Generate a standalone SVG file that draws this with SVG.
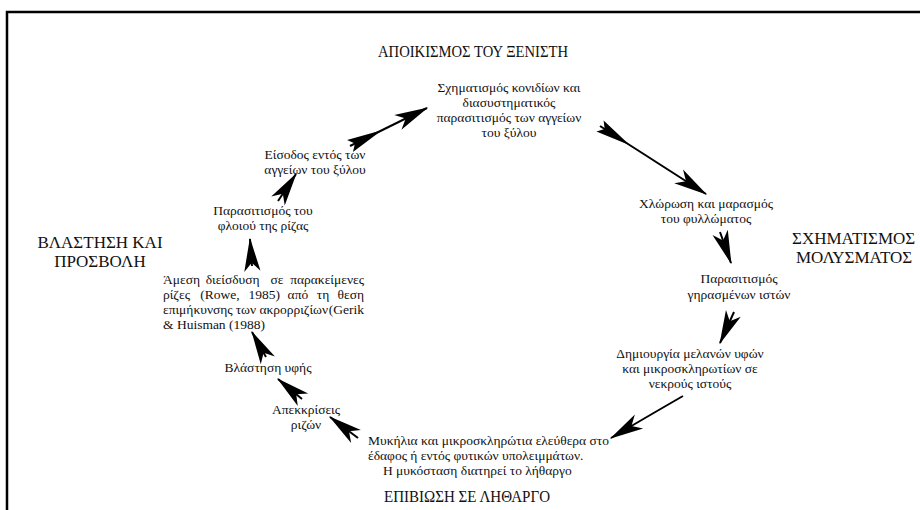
<svg xmlns="http://www.w3.org/2000/svg" width="920" height="510" viewBox="0 0 920 510">
<style>
text{font-family:"Liberation Serif","DejaVu Serif",serif;fill:#111;}
.s{font-size:13.5px;text-anchor:middle;}
.j{font-size:13.5px;}
.cap{font-size:16.5px;}
.side{font-size:17px;}
.conn{stroke:#000;stroke-width:2;fill:none;}
</style>
<defs>
<marker id="head" markerUnits="userSpaceOnUse" markerWidth="40" markerHeight="20" viewBox="-28 -8 30 16" refX="0" refY="0" orient="auto" overflow="visible">
<path d="M1,0 L-26,-6.5 L-19,0 L-26,6.5 Z" fill="#000"/>
</marker>
<marker id="tail" markerUnits="userSpaceOnUse" markerWidth="40" markerHeight="20" viewBox="-2 -8 36 16" refX="0" refY="0" orient="auto" overflow="visible">
<path d="M0,-6 L32,0 L0,6 L5,0 Z" fill="#000"/>
</marker>
</defs>
<rect width="920" height="510" fill="#fff"/>
<g id="frame" stroke="#000" stroke-width="2.5" fill="none">
<polyline points="7,510 7,12 920,12"/>
</g>

<g id="title-top"><text class="cap" x="378" y="57" textLength="190" lengthAdjust="spacingAndGlyphs">ΑΠΟΙΚΙΣΜΟΣ ΤΟΥ ΞΕΝΙΣΤΗ</text></g>
<g id="title-left"><text class="side" x="100" y="248" text-anchor="middle">ΒΛΑΣΤΗΣΗ ΚΑΙ</text><text class="side" x="100" y="267" text-anchor="middle">ΠΡΟΣΒΟΛΗ</text></g>
<g id="title-right"><text class="side" x="792" y="244">ΣΧΗΜΑΤΙΣΜΟΣ</text><text class="side" x="796" y="263">ΜΟΛΥΣΜΑΤΟΣ</text></g>
<g id="title-bottom"><text class="cap" x="384" y="502" textLength="166" lengthAdjust="spacingAndGlyphs">ΕΠΙΒΙΩΣΗ ΣΕ ΛΗΘΑΡΓΟ</text></g>

<g id="n-konidia">
<text class="s" x="509" y="92">Σχηματισμός κονιδίων και</text>
<text class="s" x="509" y="107">διασυστηματικός</text>
<text class="s" x="509" y="122">παρασιτισμός των αγγείων</text>
<text class="s" x="509" y="137">του ξύλου</text>
</g>
<g id="n-eisodos">
<text class="s" x="315" y="159">Είσοδος εντός των</text>
<text class="s" x="315" y="174">αγγείων του ξύλου</text>
</g>
<g id="n-floios">
<text class="s" x="263" y="215">Παρασιτισμός του</text>
<text class="s" x="263" y="230">φλοιού της ρίζας</text>
</g>
<g id="n-diaisdysi">
<text class="j" y="284"><tspan x="163">Άμεση</tspan><tspan x="205.7">διείσδυση</tspan><tspan x="270.4">σε</tspan><tspan x="364" text-anchor="end">παρακείμενες</tspan></text>
<text class="j" y="299"><tspan x="163">ρίζες</tspan><tspan x="200.2">(Rowe,</tspan><tspan x="248.4">1985)</tspan><tspan x="287.6">από</tspan><tspan x="316.8">τη</tspan><tspan x="364" text-anchor="end">θεση</tspan></text>
<text class="j" y="314"><tspan x="163">επιμήκυνσης</tspan><tspan x="235.7">των</tspan><tspan x="259.4">ακρορριζίων</tspan><tspan x="364" text-anchor="end">(Gerik</tspan></text>
<text class="j" x="163" y="329">&amp; Huisman (1988)</text>
</g>
<g id="n-vlastisi">
<text class="s" x="268" y="372">Βλάστηση υφής</text>
</g>
<g id="n-apekkriseis">
<text class="s" x="306" y="414">Απεκκρίσεις</text>
<text class="s" x="306" y="429">ριζών</text>
</g>
<g id="n-mykilia">
<text class="j" x="368" y="445">Μυκήλια και μικροσκληρώτια ελεύθερα στο</text>
<text class="j" x="368" y="460">έδαφος ή εντός φυτικών υπολειμμάτων.</text>
<text class="j" x="383" y="475">Η μυκόσταση διατηρεί το λήθαργο</text>
</g>
<g id="n-chlorosi">
<text class="s" x="706" y="208">Χλώρωση και μαρασμός</text>
<text class="s" x="706" y="223">του φυλλώματος</text>
</g>
<g id="n-girasmenon">
<text class="s" x="739" y="283">Παρασιτισμός</text>
<text class="s" x="739" y="299">γηρασμένων ιστών</text>
</g>
<g id="n-melanon">
<text class="s" x="690" y="358">Δημιουργία μελανών υφών</text>
<text class="s" x="690" y="373">και μικροσκληρωτίων σε</text>
<text class="s" x="690" y="388">νεκρούς ιστούς</text>
</g>

<g id="connectors" class="conn">
<path d="M358,438 L330,417" marker-end="url(#head)"/>
<path d="M302,399 L278,379" marker-end="url(#head)"/>
<path d="M266,357 L252,332" marker-end="url(#head)"/>
<path d="M252,266 L250,239" marker-end="url(#head)"/>
<path d="M278,201 L296,174" marker-end="url(#head)"/>
<path d="M350,146 L427,108" marker-start="url(#tail)" marker-end="url(#head)"/>
<path d="M600,126 L706,194" marker-start="url(#tail)" marker-end="url(#head)"/>
<path d="M720,232 L731,263" marker-end="url(#head)"/>
<path d="M734,312 L720,343" marker-end="url(#head)"/>
<path d="M683,396 Q650,415 611,438" marker-end="url(#head)"/>
</g>
</svg>
